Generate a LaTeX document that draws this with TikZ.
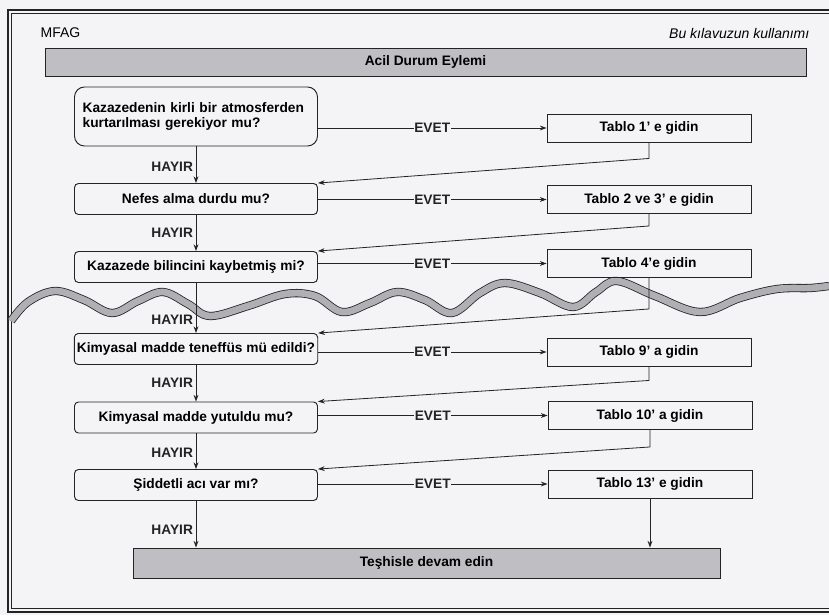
\documentclass[tikz,border=0pt]{standalone}
\usepackage{fontspec}
\setmainfont{Liberation Sans}
\usetikzlibrary{arrows, arrows.meta, shapes, positioning, calc}
\definecolor{bargray}{RGB}{190,190,195}
\definecolor{wavegray}{RGB}{176,176,180}
\definecolor{paper}{RGB}{244,244,247}
\definecolor{ink}{RGB}{35,35,35}
\tikzstyle{arrow} = [ink,line width=0.6pt,->,>={Stealth[length=5pt,width=3.6pt]}]
\tikzset{
  question/.style={draw=ink, line width=0.7pt, rounded corners=3pt, minimum width=182.25pt,
    minimum height=23.25pt, inner sep=2pt, font=\bfseries\fontsize{10.3}{11}\selectfont},
  tablo/.style={draw=ink, line width=0.7pt, minimum width=153pt, minimum height=21pt,
    inner sep=2pt, font=\bfseries\fontsize{10.3}{11}\selectfont},
  bar/.style={draw=ink, line width=0.7pt, fill=bargray, inner sep=2pt,
    font=\bfseries\fontsize{10.3}{11}\selectfont},
  evet/.style={fill=paper, inner sep=0.6pt, font=\bfseries\fontsize{10.3}{11}\selectfont},
  hayir/.style={anchor=east, inner sep=2pt, font=\bfseries\fontsize{10.3}{11}\selectfont},
}

\begin{document}
\begin{tikzpicture}[x=0.75pt, y=-0.75pt]
  \useasboundingbox (0,0) rectangle (829,615);
  \fill[paper] (0,0) rectangle (829,615);

  % page frame, open on the right
  \draw[ink, line width=1.3pt] (829,10) -- (8,10) -- (8,612) -- (829,612);
  \draw[ink, line width=0.4pt] (829,13.5) -- (11.5,13.5) -- (11.5,608.5) -- (829,608.5);

  \node[anchor=west, font=\fontsize{10.5}{12}\selectfont] (mfag) at (36,33) {MFAG};
  \node[anchor=east, font=\itshape\fontsize{10.5}{12}\selectfont] (guide) at (814,33) {Bu kılavuzun kullanımı};

  \node[bar, minimum width=570.75pt, minimum height=21pt] (head) at (425.5,62) {Acil Durum Eylemi};

  % broken-off wave
  \draw[ink, line width=0.6pt, double=wavegray, double distance=5pt]
    plot[smooth, tension=0.6] coordinates {(11,321) (28,302) (55,291) (84,300) (112,313) (138,301)
      (163,292) (188,304) (210,316) (248,306) (285,294) (315,296) (342,312) (370,303) (397,292)
      (425,300) (452,313) (480,293) (505,283) (540,293) (573,307) (596,292) (617,281) (655,296)
      (700,312) (740,298) (777,289) (810,288) (829,286)};

  % questions
  \node[question, rounded corners=7.5pt, minimum height=44.25pt, align=left, text width=170pt] (q1) at (196,116.5)
    {Kazazedenin kirli bir atmosferden\\kurtarılması gerekiyor mu?};
  \node[question] (q2) at (196,199) {Nefes alma durdu mu?};
  \node[question] (q3) at (196,267) {Kazazede bilincini kaybetmiş mi?};
  \node[question] (q4) at (196,349) {Kimyasal madde teneffüs mü edildi?};
  \node[question] (q5) at (196,417.5) {Kimyasal madde yutuldu mu?};
  \node[question] (q6) at (196,485) {Şiddetli acı var mı?};

  % tables
  \node[tablo] (t1) at (649,128) {Tablo 1' e gidin};
  \node[tablo] (t2) at (649,199.5) {Tablo 2 ve 3' e gidin};
  \node[tablo] (t3) at (649,263.5) {Tablo 4'e gidin};
  \node[tablo] (t9) at (649,352) {Tablo 9' a gidin};
  \node[tablo] (t10) at (650,415.5) {Tablo 10' a gidin};
  \node[tablo] (t13) at (650,484) {Tablo 13' e gidin};

  \node[bar, minimum width=440.25pt, minimum height=22.5pt] (cont) at (426.5,563) {Teşhisle devam edin};

  % HAYIR
  \draw[arrow] (q1.south) -- node[hayir, pos=0.55] {HAYIR} (q2.north);
  \draw[arrow] (q2.south) -- node[hayir, pos=0.5] {HAYIR} (q3.north);
  \draw[arrow] (q3.south) -- node[hayir, pos=0.73] {HAYIR} (q4.north);
  \draw[arrow] (q4.south) -- node[hayir, pos=0.5] {HAYIR} (q5.north);
  \draw[arrow] (q5.south) -- node[hayir, pos=0.54] {HAYIR} (q6.north);
  \draw[arrow] (q6.south) -- node[hayir, pos=0.62] {HAYIR} (q6.south |- cont.north);

  % EVET
  \draw[arrow] (t1.west -| q1.east) -- node[evet] {EVET} (t1.west);
  \draw[arrow] (t2.west -| q2.east) -- node[evet] {EVET} (t2.west);
  \draw[arrow] (t3.west -| q3.east) -- node[evet] {EVET} (t3.west);
  \draw[arrow] (t9.west -| q4.east) -- node[evet] {EVET} (t9.west);
  \draw[arrow] (t10.west -| q5.east) -- node[evet] {EVET} (t10.west);
  \draw[arrow] (t13.west -| q6.east) -- node[evet] {EVET} (t13.west);

  % back to the next question
  \draw[arrow] (t1.south) -- ++(0,16) -- (q2.north east);
  \draw[arrow] (t2.south) -- ++(0,12) -- (q3.north east);
  \draw[arrow] (t3.south) -- ++(0,31) -- (q4.north east);
  \draw[arrow] (t9.south) -- ++(0,14) -- (q5.north east);
  \draw[arrow] (t10.south) -- ++(0,17) -- (q6.north east);
  \draw[arrow] (t13.south) -- (t13.south |- cont.north);
\end{tikzpicture}
\end{document}
